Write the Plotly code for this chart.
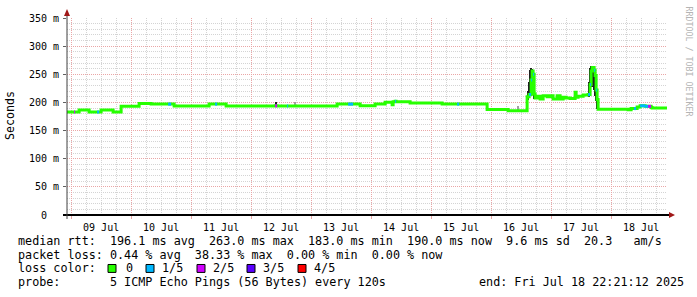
import plotly.graph_objects as go

# ---------------- data ----------------
start_time = "2025-07-08 22:21:12"
end_time = "2025-07-18 22:21:12"

# median rtt (ms), step starts, and number of lost pings (of 5)
med_time = [
    "2025-07-08 22:21", "2025-07-09 01:12", "2025-07-09 01:36", "2025-07-09 03:12",
    "2025-07-09 07:12", "2025-07-09 10:24", "2025-07-09 11:12", "2025-07-09 12:00",
    "2025-07-09 16:48", "2025-07-09 20:00", "2025-07-10 03:12", "2025-07-10 08:00",
    "2025-07-10 14:48", "2025-07-10 16:00", "2025-07-10 17:12", "2025-07-11 07:12",
    "2025-07-11 09:36", "2025-07-11 10:24", "2025-07-11 14:00", "2025-07-12 09:36",
    "2025-07-12 10:24", "2025-07-12 14:24", "2025-07-12 14:48", "2025-07-13 10:24",
    "2025-07-13 14:48", "2025-07-13 16:48", "2025-07-13 19:36", "2025-07-14 01:36",
    "2025-07-14 05:36", "2025-07-14 08:24", "2025-07-14 08:48", "2025-07-14 09:36",
    "2025-07-14 10:00", "2025-07-14 15:36", "2025-07-15 04:24", "2025-07-15 10:24",
    "2025-07-15 11:12", "2025-07-15 22:24", "2025-07-16 06:48", "2025-07-16 14:24",
    "2025-07-16 15:12", "2025-07-16 16:00", "2025-07-16 16:24", "2025-07-16 16:48",
    "2025-07-16 17:12", "2025-07-16 17:36", "2025-07-16 18:24", "2025-07-16 19:36",
    "2025-07-16 20:48", "2025-07-16 22:24", "2025-07-16 23:36", "2025-07-17 00:48",
    "2025-07-17 02:24", "2025-07-17 03:36", "2025-07-17 04:48", "2025-07-17 06:00",
    "2025-07-17 07:36", "2025-07-17 09:36", "2025-07-17 10:00", "2025-07-17 10:48",
    "2025-07-17 12:48", "2025-07-17 14:48", "2025-07-17 15:36", "2025-07-17 16:00",
    "2025-07-17 16:24", "2025-07-17 17:12", "2025-07-17 17:36", "2025-07-17 18:00",
    "2025-07-17 18:24", "2025-07-17 18:48", "2025-07-18 06:48", "2025-07-18 08:00",
    "2025-07-18 09:12", "2025-07-18 10:00", "2025-07-18 10:24", "2025-07-18 11:36",
    "2025-07-18 13:36", "2025-07-18 14:48", "2025-07-18 16:00", "2025-07-18 16:24",
]
med_ms = [
    183, 183, 183, 186.5,
    183, 183, 183, 186.5,
    183, 193, 198, 197,
    197, 197, 193.5, 197,
    197, 197, 193.5, 194,
    193.5, 193.5, 193.5, 197,
    197, 197, 194, 197,
    200.5, 196, 201, 202,
    201, 199, 197, 197,
    197, 187.5, 185, 210,
    214, 240, 256, 250,
    215, 208, 211, 206,
    212, 210, 212, 206,
    212, 206, 209, 208,
    207, 218, 209, 211,
    213, 214, 232, 256,
    262, 257, 248, 222,
    205, 188, 187, 189,
    189, 189, 192, 194,
    193, 193, 191, 190,
]
med_loss = [
    0, 2, 0, 0,
    0, 1, 0, 0,
    0, 0, 0, 0,
    1, 0, 0, 0,
    1, 0, 0, 2,
    0, 1, 0, 0,
    1, 0, 0, 0,
    0, 0, 0, 1,
    0, 0, 0, 1,
    0, 0, 0, 0,
    1, 1, 0, 1,
    0, 0, 0, 0,
    0, 0, 0, 0,
    0, 0, 0, 0,
    0, 0, 0, 0,
    0, 1, 1, 0,
    0, 1, 0, 1,
    0, 0, 0, 0,
    1, 0, 0, 1,
    1, 2, 0, 0,
]

# smoke (spread of the individual pings) where visible
smoke_time = [
    "2025-07-12 10:00", "2025-07-12 17:36", "2025-07-16 10:48",
    "2025-07-16 14:24", "2025-07-16 14:48", "2025-07-16 15:12", "2025-07-16 15:36",
    "2025-07-16 16:00", "2025-07-16 16:24", "2025-07-16 16:48", "2025-07-16 17:12",
    "2025-07-17 15:12", "2025-07-17 15:36", "2025-07-17 16:00", "2025-07-17 16:24",
    "2025-07-17 16:48", "2025-07-17 17:12", "2025-07-17 17:36", "2025-07-17 18:00",
    "2025-07-17 18:24",
]
smoke_lo = [193, 193, 185, 186, 205, 210, 214, 225, 230, 222, 206,
            210, 215, 228, 232, 228, 222, 212, 202, 188]
smoke_hi = [200, 201, 194, 212, 220, 236, 258, 262, 260, 255, 240,
            236, 262, 265, 265, 263, 262, 256, 240, 224]
smoke_shade = ["#202020", "#a0a0a0", "#a0a0a0",
               "#202020", "#202020", "#202020", "#202020",
               "#202020", "#202020", "#202020", "#202020",
               "#202020", "#202020", "#202020", "#202020",
               "#202020", "#202020", "#202020", "#202020", "#202020"]

loss_labels = ["0", "1/5", "2/5", "3/5", "4/5"]
loss_colors = ["#26ff00", "#00b8ff", "#d000ff", "#5a00ff", "#ff0000"]

y_tickvals = [0, 50, 100, 150, 200, 250, 300, 350]
y_ticktext = ["0\u00a0\u00a0", "50 m", "100 m", "150 m", "200 m", "250 m", "300 m", "350 m"]

legend_lines = [
    "median rtt:  196.1 ms avg  263.0 ms max  183.0 ms min  190.0 ms now  9.6 ms sd  20.3   am/s",
    "packet loss: 0.44 % avg  38.33 % max  0.00 % min  0.00 % now",
    "loss color:",
    "probe:       5 ICMP Echo Pings (56 Bytes) every 120s",
]
end_label = "end: Fri Jul 18 22:21:12 2025"

# ---------------- layout geometry ----------------
W, H = 697, 297
PL, PR, PT, PB = 67, 667, 16, 215   # plot area in pixels


def px(x):
    return (x - PL) / (PR - PL)


def py(y):
    return (PB - y) / (PB - PT)


MONO = "DejaVu Sans Mono"
MAJOR = "#eaa6a6"
MINOR = "#d4d4d4"

fig = go.Figure()

# smoke
fig.add_trace(go.Bar(
    x=smoke_time,
    y=[h - l for h, l in zip(smoke_hi, smoke_lo)],
    base=smoke_lo,
    width=24 * 60 * 1000,
    marker=dict(color=smoke_shade, line=dict(width=0)),
    hoverinfo="skip",
))

# median line (loss 0 colour)
fig.add_trace(go.Scatter(
    x=med_time + [end_time], y=med_ms + [med_ms[-1]],
    mode="lines", line=dict(color=loss_colors[0], width=3, shape="hv"),
    hoverinfo="skip",
))

# loss-coloured pieces of the median
for lvl in range(1, len(loss_colors)):
    xs, ys = [], []
    for i, l in enumerate(med_loss):
        if l == lvl:
            t1 = med_time[i + 1] if i + 1 < len(med_time) else end_time
            xs += [med_time[i], t1, None]
            ys += [med_ms[i], med_ms[i], None]
    if xs:
        fig.add_trace(go.Scatter(x=xs, y=ys, mode="lines",
                                 line=dict(color=loss_colors[lvl], width=3),
                                 hoverinfo="skip"))

fig.update_layout(
    width=W, height=H,
    margin=dict(l=PL, r=W - PR, t=PT, b=H - PB, pad=0),
    paper_bgcolor="white", plot_bgcolor="white",
    showlegend=False,
    bargap=0,
    font=dict(family=MONO, size=10, color="#000000"),
    xaxis=dict(
        type="date", range=[start_time, end_time],
        tick0="2025-07-09 00:00", dtick=86400000,
        ticklabelmode="period", tickformat="%d %b",
        showgrid=True, gridcolor=MAJOR, griddash="1px,1px", gridwidth=1,
        minor=dict(dtick=6 * 3600000, showgrid=True, gridcolor=MINOR,
                   griddash="1px,1px", gridwidth=1),
        ticks="outside", ticklen=3, tickcolor=MAJOR,
        showline=False, zeroline=False,
        tickfont=dict(family=MONO, size=10, color="#000000"),
        fixedrange=True,
    ),
    yaxis=dict(
        range=[0, 350], tickvals=y_tickvals, ticktext=y_ticktext,
        showgrid=True, gridcolor=MAJOR, griddash="1px,1px", gridwidth=1,
        minor=dict(dtick=10, showgrid=True, gridcolor=MINOR,
                   griddash="1px,1px", gridwidth=1),
        ticks="outside", ticklen=3, tickcolor="#606060",
        showline=False, zeroline=False,
        tickfont=dict(family=MONO, size=10, color="#000000"),
        ticklabelstandoff=2,
        fixedrange=True,
    ),
)

# axis lines and arrows
fig.add_shape(type="line", xref="paper", yref="paper",
              x0=px(63), x1=px(671), y0=0, y1=0,
              line=dict(color="#000000", width=2))
fig.add_shape(type="line", xref="paper", yref="paper",
              x0=0, x1=0, y0=py(219), y1=py(12),
              line=dict(color="#404040", width=1))
fig.add_shape(type="path", xref="paper", yref="paper",
              path=f"M {px(64)},{py(14)} L {px(67)},{py(7)} L {px(70)},{py(14)} Z",
              fillcolor="#a01818", line=dict(width=0))
fig.add_shape(type="path", xref="paper", yref="paper",
              path=f"M {px(669)},{py(212)} L {px(675)},{py(215)} L {px(669)},{py(218)} Z",
              fillcolor="#a01818", line=dict(width=0))

NB = "\u00a0"
LEG = 11.75
line_y = [241, 255, 269, 283]
for txt, yy in zip(legend_lines, line_y):
    fig.add_annotation(xref="paper", yref="paper", x=px(16), y=py(yy),
                       text=txt.replace(" ", NB), showarrow=False,
                       xanchor="left", yanchor="middle",
                       font=dict(family=MONO, size=LEG, color="#000000"))
fig.add_annotation(xref="paper", yref="paper", x=px(477), y=py(line_y[3]),
                   text=end_label.replace(" ", NB), showarrow=False,
                   xanchor="left", yanchor="middle",
                   font=dict(family=MONO, size=LEG, color="#000000"))

# loss colour swatches
sw_x = [108, 146, 197, 247, 298]
lab_x = [124, 160, 211, 261, 312]
for c, lab, sx, lx in zip(loss_colors, loss_labels, sw_x, lab_x):
    fig.add_shape(type="rect", xref="paper", yref="paper",
                  x0=px(sx), x1=px(sx + 8), y0=py(273), y1=py(265),
                  fillcolor=c, line=dict(color="#000000", width=1))
    fig.add_annotation(xref="paper", yref="paper", x=px(lx), y=py(line_y[2]),
                       text=lab, showarrow=False, xanchor="left", yanchor="middle",
                       font=dict(family=MONO, size=LEG, color="#000000"))

# axis title
fig.add_annotation(xref="paper", yref="paper", x=px(10), y=py(115),
                   text="Seconds", textangle=-90, showarrow=False,
                   xanchor="center", yanchor="middle",
                   font=dict(family=MONO, size=11.6, color="#000000"))
# rrdtool watermark
fig.add_annotation(xref="paper", yref="paper", x=px(689), y=py(60),
                   text="RRDTOOL / TOBI OETIKER", textangle=90, showarrow=False,
                   xanchor="center", yanchor="middle",
                   font=dict(family=MONO, size=8.3, color="#b4b4b4"))

fig.write_html("out.html")
